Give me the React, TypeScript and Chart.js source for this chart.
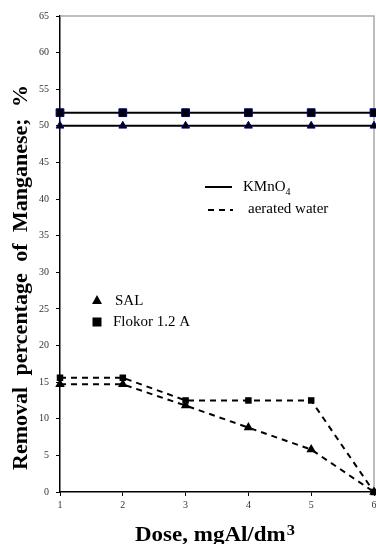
import React, { useEffect, useRef } from "react";
import { Chart, registerables } from "chart.js";

Chart.register(...registerables);

const doses = [1, 2, 3, 4, 5, 6];
const kmno4Sal = [50, 50, 50, 50, 50, 50];
const kmno4Flokor = [51.8, 51.8, 51.8, 51.8, 51.8, 51.8];
const aeratedSal = [14.7, 14.7, 11.8, 8.8, 5.8, 0];
const aeratedFlokor = [15.6, 15.6, 12.5, 12.5, 12.5, 0];
const yTickValues = [0, 5, 10, 15, 20, 25, 30, 35, 40, 45, 50, 55, 60, 65];

const yTitle = "Removal percentage of Manganese; %";
const xTitleMain = "Dose, mgAl/dm";
const xTitleSup = "3";
const legendSal = "SAL";
const legendFlokor = "Flokor 1.2 A";
const legendKmno4 = "KMnO";
const legendKmno4Sub = "4";
const legendAerated = "aerated water";

const SERIF = '"Liberation Serif", "Times New Roman", serif';

const toPoints = (ys: number[]) => doses.map((x, i) => ({ x, y: ys[i] }));

const decorPlugin = {
  id: "decor",
  beforeDatasetsDraw(chart: any) {
    const { ctx, chartArea } = chart;
    const { left, right, top, bottom } = chartArea;
    ctx.save();
    ctx.strokeStyle = "#a8a8a8";
    ctx.lineWidth = 1.5;
    ctx.beginPath();
    ctx.moveTo(left, top);
    ctx.lineTo(right, top);
    ctx.lineTo(right, bottom);
    ctx.stroke();
    ctx.restore();
  },
  afterDraw(chart: any) {
    const { ctx } = chart;
    ctx.save();
    ctx.fillStyle = "#000";
    // Y title
    ctx.save();
    ctx.translate(26.5, 277.5);
    ctx.rotate(-Math.PI / 2);
    ctx.font = `bold 22px ${SERIF}`;
    (ctx as any).wordSpacing = "6px";
    ctx.textAlign = "center";
    ctx.textBaseline = "alphabetic";
    const natural = ctx.measureText(yTitle).width;
    const sy = 385 / natural;
    ctx.scale(sy, 1);
    ctx.fillText(yTitle, 0, 0);
    ctx.restore();

    // X title
    ctx.save();
    ctx.font = `bold 21px ${SERIF}`;
    const wMain = ctx.measureText(xTitleMain).width;
    ctx.font = `bold 15px ${SERIF}`;
    const wSup = ctx.measureText(xTitleSup).width;
    const total = wMain + wSup + 1;
    const sx = 160 / total;
    ctx.translate(215, 541);
    ctx.scale(sx, 1);
    ctx.textAlign = "left";
    ctx.textBaseline = "alphabetic";
    ctx.font = `bold 21px ${SERIF}`;
    ctx.fillText(xTitleMain, -total / 2, 0);
    ctx.font = `bold 15px ${SERIF}`;
    ctx.fillText(xTitleSup, -total / 2 + wMain + 1, -6);
    ctx.restore();

    // Marker legend
    ctx.font = `15px ${SERIF}`;
    ctx.textAlign = "left";
    ctx.textBaseline = "middle";
    ctx.beginPath();
    ctx.moveTo(97, 295);
    ctx.lineTo(102, 304);
    ctx.lineTo(92, 304);
    ctx.closePath();
    ctx.fill();
    ctx.fillText(legendSal, 115, 301);
    ctx.fillRect(92.5, 317.5, 9, 9);
    ctx.fillText(legendFlokor, 113, 322);

    // Line legend
    ctx.strokeStyle = "#000";
    ctx.lineWidth = 2;
    ctx.beginPath();
    ctx.moveTo(205, 187);
    ctx.lineTo(232, 187);
    ctx.stroke();
    ctx.fillText(legendKmno4, 243, 187);
    const w = ctx.measureText(legendKmno4).width;
    ctx.font = `10px ${SERIF}`;
    ctx.fillText(legendKmno4Sub, 243 + w, 192);
    ctx.font = `15px ${SERIF}`;
    ctx.setLineDash([6, 5]);
    ctx.beginPath();
    ctx.moveTo(208, 210);
    ctx.lineTo(233, 210);
    ctx.stroke();
    ctx.setLineDash([]);
    ctx.fillText(legendAerated, 248, 209);
    ctx.restore();
  },
};

export default function App() {
  const ref = useRef<HTMLCanvasElement | null>(null);
  useEffect(() => {
    const canvas = ref.current;
    if (!canvas) return;
    const chart = new Chart(canvas, {
      type: "line",
      data: {
        datasets: [
          {
            label: "KMnO4 SAL",
            data: toPoints(kmno4Sal),
            borderColor: "#000",
            borderWidth: 2,
            pointStyle: "triangle",
            pointRadius: 4.5,
            pointBackgroundColor: "#000",
            pointBorderColor: "#000080",
            pointBorderWidth: 1,
            clip: false as any,
          },
          {
            label: "KMnO4 Flokor",
            data: toPoints(kmno4Flokor),
            borderColor: "#000",
            borderWidth: 2,
            pointStyle: "rect",
            pointRadius: 5.5,
            pointBackgroundColor: "#000",
            pointBorderColor: "#000080",
            pointBorderWidth: 1,
            clip: false as any,
          },
          {
            label: "aerated SAL",
            data: toPoints(aeratedSal),
            borderColor: "#000",
            borderWidth: 2,
            borderDash: [6, 5],
            pointStyle: "triangle",
            pointRadius: 5.5,
            pointBackgroundColor: "#000",
            pointBorderColor: "#000",
            pointBorderWidth: 0,
            clip: false as any,
          },
          {
            label: "aerated Flokor",
            data: toPoints(aeratedFlokor),
            borderColor: "#000",
            borderWidth: 2,
            borderDash: [6, 5],
            pointStyle: "rect",
            pointRadius: 4.6,
            pointBackgroundColor: "#000",
            pointBorderColor: "#000",
            pointBorderWidth: 0,
            clip: false as any,
          },
        ],
      },
      options: {
        responsive: false,
        animation: false,
        events: [],
        layout: { autoPadding: false, padding: { top: 16, right: 2, left: 0, bottom: 0 } },
        plugins: {
          legend: { display: false },
          tooltip: { enabled: false },
          title: { display: false },
        },
        scales: {
          x: {
            type: "linear",
            min: 1,
            max: 6,
            afterFit: (s: any) => {
              s.height = 52;
              s.paddingLeft = 0;
              s.paddingRight = 0;
            },
            border: { color: "#000", width: 1.5 },
            grid: {
              drawOnChartArea: false,
              drawTicks: true,
              tickLength: 4,
              color: "#000",
            },
            ticks: {
              stepSize: 1,
              padding: 3,
              color: "#333",
              font: { family: SERIF, size: 10 },
            },
          },
          y: {
            type: "linear",
            min: 0,
            max: 65,
            afterFit: (s: any) => {
              s.width = 60;
              s.paddingTop = 0;
              s.paddingBottom = 0;
            },
            afterBuildTicks: (s: any) => {
              s.ticks = yTickValues.map((v) => ({ value: v }));
            },
            border: { color: "#000", width: 1.5 },
            grid: {
              drawOnChartArea: false,
              drawTicks: true,
              tickLength: 4,
              color: "#000",
            },
            ticks: {
              padding: 7,
              color: "#333",
              font: { family: SERIF, size: 10 },
            },
          },
        },
      },
      plugins: [decorPlugin],
    });
    return () => chart.destroy();
  }, []);
  return (
    <div style={{ position: "fixed", left: 0, top: 0, width: 376, height: 544 }}>
      <canvas ref={ref} width={376} height={544} style={{ display: "block" }} />
    </div>
  );
}
